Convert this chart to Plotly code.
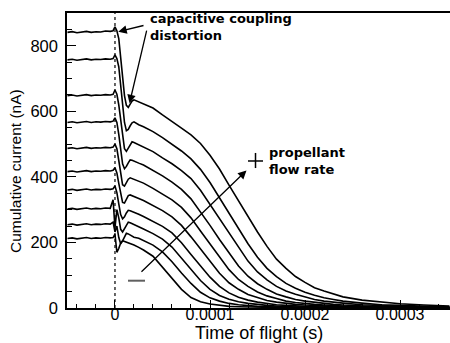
import plotly.graph_objects as go

# Time of flight grid in microseconds
t_us = [-50, -45, -40, -35, -30, -25, -20, -15, -10, -5, -2, 0,
        2, 4, 6, 8, 10, 12, 14, 16, 18, 20,
        25, 30, 40, 50, 60, 70, 80, 90, 100, 110, 120, 130, 140, 150,
        160, 170, 180, 190, 200, 210, 220, 230, 240, 260, 280, 300, 325, 352]

# Cumulative collected current (nA), highest propellant flow rate first
curve_a = [841, 843, 840, 842, 844, 841, 843, 842, 845, 844, 846, 858,
           846, 822, 762, 700, 648, 618, 612, 622, 631, 635,
           629, 622, 610, 589, 570, 549, 528, 502, 466, 424, 375, 327, 279, 232,
           188, 149, 121, 96, 78, 62, 52, 42, 34, 24, 18, 13, 9, 6]
curve_b = [757, 759, 756, 758, 760, 757, 759, 758, 760, 759, 761, 772,
           761, 736, 682, 620, 566, 541, 545, 556, 565, 568,
           559, 553, 538, 520, 500, 479, 455, 423, 383, 336, 289, 242, 196, 155,
           121, 96, 75, 60, 48, 39, 31, 26, 21, 15, 10, 8, 5, 3]
curve_c = [648, 650, 647, 649, 651, 648, 650, 649, 651, 650, 652, 665,
           652, 620, 570, 520, 486, 478, 488, 500, 507, 505,
           498, 492, 477, 458, 440, 419, 395, 359, 316, 271, 230, 184, 143, 110,
           86, 66, 52, 42, 33, 26, 21, 17, 15, 10, 7, 5, 3, 3]
curve_d = [566, 568, 565, 567, 569, 566, 568, 567, 569, 568, 570, 580,
           566, 530, 481, 440, 425, 432, 443, 452, 451, 448,
           442, 436, 420, 403, 384, 362, 333, 294, 252, 209, 167, 128, 97, 74,
           57, 43, 34, 26, 21, 17, 14, 11, 9, 6, 4, 3, 2, 1]
curve_e = [487, 489, 486, 488, 490, 487, 489, 488, 490, 489, 491, 500,
           486, 450, 405, 376, 372, 382, 393, 397, 395, 392,
           386, 381, 365, 348, 330, 307, 275, 235, 195, 155, 117, 87, 66, 49,
           37, 29, 21, 17, 13, 11, 9, 7, 6, 4, 3, 2, 1, 1]
curve_f = [416, 418, 415, 417, 419, 416, 418, 417, 419, 418, 420, 428,
           412, 380, 345, 322, 320, 332, 343, 345, 343, 340,
           334, 328, 313, 297, 278, 252, 217, 180, 142, 106, 77, 57, 41, 31,
           23, 18, 14, 11, 9, 7, 6, 5, 4, 2, 2, 1, 1, 1]
curve_g = [360, 362, 359, 361, 363, 360, 362, 361, 363, 362, 364, 372,
           352, 318, 285, 272, 278, 290, 298, 297, 294, 292,
           286, 279, 265, 249, 229, 199, 163, 128, 94, 66, 46, 33, 24, 18,
           13, 10, 8, 6, 5, 4, 3, 2, 2, 2, 1, 1, 1, 0]
curve_h = [302, 304, 301, 303, 305, 302, 304, 303, 305, 304, 330, 245,
           300, 275, 240, 232, 242, 255, 262, 260, 257, 254,
           248, 241, 227, 210, 186, 152, 119, 84, 57, 38, 27, 19, 14, 10,
           8, 6, 4, 3, 3, 2, 2, 2, 1, 1, 1, 1, 0, 0]
curve_i = [254, 256, 253, 255, 257, 254, 256, 255, 257, 256, 262, 232,
           250, 215, 196, 205, 218, 228, 226, 222, 219, 216,
           213, 206, 192, 171, 141, 107, 75, 48, 31, 21, 14, 10, 7, 5,
           4, 3, 2, 2, 1, 1, 1, 1, 1, 0, 0, 0, 0, 0]
curve_j = [212, 214, 211, 213, 215, 212, 214, 213, 215, 214, 215, 225,
           170, 182, 198, 205, 203, 201, 200, 198, 195, 192,
           185, 177, 158, 124, 88, 57, 32, 19, 12, 8, 5, 4, 3, 2,
           2, 1, 1, 1, 1, 0, 0, 0, 0, 0, 0, 0, 0, 0]

curves = [curve_a, curve_b, curve_c, curve_d, curve_e,
          curve_f, curve_g, curve_h, curve_i, curve_j]

x_tick_vals = [0, 0.0001, 0.0002, 0.0003]
x_tick_text = ["0", "0.0001", "0.0002", "0.0003"]
y_tick_vals = [0, 200, 400, 600, 800]
y_tick_text = ["0", "200", "400", "600", "800"]

t_s = [v * 1e-6 for v in t_us]

fig = go.Figure()
for c in curves:
    fig.add_trace(go.Scatter(x=t_s, y=c, mode="lines",
                             line=dict(color="black", width=1.6),
                             showlegend=False, hoverinfo="skip"))

# dotted marker of the gate switching instant
fig.add_shape(type="line", xref="x", yref="paper", x0=0, x1=0, y0=0, y1=1,
              line=dict(color="black", width=1.2, dash="dot"))

# "+" and "-" signs of the flow-rate arrow
fig.add_shape(type="line", xref="x", yref="y", x0=140e-6, x1=155.8e-6,
              y0=448.5, y1=448.5, line=dict(color="black", width=1.5))
fig.add_shape(type="line", xref="x", yref="y", x0=147.9e-6, x1=147.9e-6,
              y0=427, y1=473, line=dict(color="black", width=1.5))
fig.add_shape(type="line", xref="x", yref="y", x0=13.7e-6, x1=31.6e-6,
              y0=83.3, y1=83.3, line=dict(color="#606060", width=2))

bold = dict(family="DejaVu Sans", size=13, color="black", weight="bold")
arial = "Liberation Sans, Arial, sans-serif"

ann = []
for txt, x, y in [("capacitive coupling<br>distortion", 34.7e-6, 856),
                  ("propellant<br>flow rate", 160e-6, 448)]:
    ann.append(dict(text=txt, x=x, y=y, xref="x", yref="y", xanchor="left",
                    yanchor="middle", align="left", showarrow=False,
                    font=bold))

for tip, tail in [((3.47e-6, 843), (31.6e-6, 863)),
                  ((15.3e-6, 625), (33.7e-6, 851)),
                  ((138.4e-6, 419.5), (26.3e-6, 106))]:
    ann.append(dict(text="", x=tip[0], y=tip[1], xref="x", yref="y",
                    ax=tail[0], ay=tail[1], axref="x", ayref="y",
                    showarrow=True, arrowhead=2, arrowsize=1.3, arrowwidth=1.3,
                    arrowcolor="black", standoff=0, startstandoff=0))

ann.append(dict(text="Cumulative current (nA)", xref="paper", yref="paper",
                x=-0.1358, y=0.4644, textangle=-90, showarrow=False,
                xanchor="center", yanchor="middle",
                font=dict(family=arial, size=15.5, color="black")))
ann.append(dict(text="Time of flight (s)", xref="paper", yref="paper",
                x=0.5, y=-0.084, showarrow=False,
                xanchor="center", yanchor="middle",
                font=dict(family=arial, size=18, color="black")))

fig.update_layout(
    width=450, height=343,
    margin=dict(l=67, r=0, t=13, b=35),
    paper_bgcolor="white", plot_bgcolor="white",
    annotations=ann,
    xaxis=dict(range=[-5.05e-5, 3.526e-4], showgrid=False, zeroline=False,
               showline=True, linecolor="black", linewidth=1.5, mirror=True,
               ticks="inside", ticklen=8, tickwidth=1.2, tickcolor="black",
               tickvals=x_tick_vals, ticktext=x_tick_text,
               ticklabelstandoff=-9,
               tickfont=dict(family=arial, size=16, color="black"),
               minor=dict(dtick=2e-5, ticks="inside", ticklen=4,
                          tickwidth=1, tickcolor="black", showgrid=False)),
    yaxis=dict(range=[0, 900], showgrid=False, zeroline=False,
               showline=True, linecolor="black", linewidth=1.5,
               ticks="inside", ticklen=9, tickwidth=1.2, tickcolor="black",
               tickvals=y_tick_vals, ticktext=y_tick_text,
               ticklabelstandoff=4,
               tickfont=dict(family=arial, size=16.5, color="black"),
               minor=dict(dtick=50, ticks="inside", ticklen=5,
                          tickwidth=1, tickcolor="black", showgrid=False)),
)

fig.write_html("out.html")
